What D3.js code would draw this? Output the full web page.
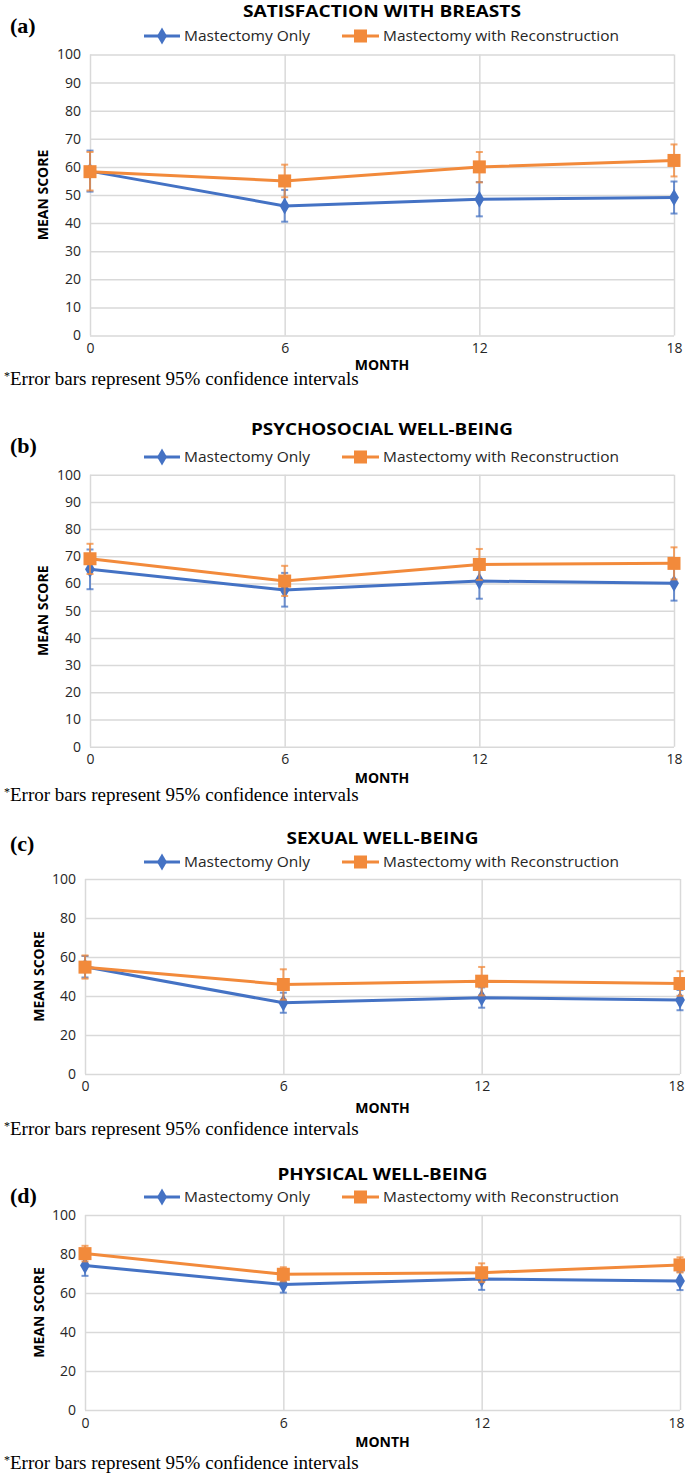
<!DOCTYPE html>
<html>
<head>
<meta charset="utf-8">
<script src="https://cdn.jsdelivr.net/npm/d3@7"></script>
<style>
  html, body { margin: 0; padding: 0; background: #fff; }
  svg { display: block; }
</style>
</head>
<body>
<svg id="chart" width="685" height="1478"></svg>
<script>
// ---------------- DATA ----------------
const months = [0, 6, 12, 18];
const seriesNames = ["Mastectomy Only", "Mastectomy with Reconstruction"];
const panelLabels = ["(a)", "(b)", "(c)", "(d)"];
const panelTitles = ["SATISFACTION WITH BREASTS", "PSYCHOSOCIAL WELL-BEING", "SEXUAL WELL-BEING", "PHYSICAL WELL-BEING"];
const yTicksTen = [0, 10, 20, 30, 40, 50, 60, 70, 80, 90, 100];
const yTicksTwenty = [0, 20, 40, 60, 80, 100];
const xAxisTitle = "MONTH";
const yAxisTitle = "MEAN SCORE";
const captionText = "Error bars represent 95% confidence intervals";

// (a) Satisfaction with breasts
const satOnlyMean = [58.5, 46.1, 48.5, 49.1];
const satOnlyLow  = [51.2, 40.5, 42.4, 43.4];
const satOnlyHigh = [65.8, 51.8, 54.6, 54.8];
const satReconMean = [58.3, 55.0, 60.0, 62.3];
const satReconLow  = [51.6, 49.2, 54.5, 56.6];
const satReconHigh = [65.3, 60.8, 65.3, 68.0];
// (b) Psychosocial well-being
const psyOnlyMean = [65.2, 57.6, 60.9, 60.1];
const psyOnlyLow  = [57.9, 51.5, 54.4, 53.7];
const psyOnlyHigh = [72.5, 63.9, 67.3, 66.5];
const psyReconMean = [69.1, 60.9, 67.0, 67.4];
const psyReconLow  = [63.5, 55.4, 61.3, 61.5];
const psyReconHigh = [74.6, 66.5, 72.7, 73.3];
// (c) Sexual well-being
const sexOnlyMean = [55.0, 36.5, 39.1, 37.9];
const sexOnlyLow  = [49.5, 31.4, 34.0, 32.7];
const sexOnlyHigh = [60.5, 41.7, 44.4, 43.1];
const sexReconMean = [54.8, 45.9, 47.6, 46.4];
const sexReconLow  = [48.9, 38.1, 40.3, 40.1];
const sexReconHigh = [60.8, 53.7, 54.9, 52.7];
// (d) Physical well-being
const phyOnlyMean = [74.1, 64.3, 67.2, 66.2];
const phyOnlyLow  = [68.8, 60.2, 61.6, 61.5];
const phyOnlyHigh = [79.4, 68.4, 72.8, 70.9];
const phyReconMean = [80.2, 69.6, 70.4, 74.4];
const phyReconLow  = [76.2, 66.0, 65.6, 70.5];
const phyReconHigh = [84.2, 73.2, 75.2, 78.3];

// ---------------- STYLE / LAYOUT ----------------
const colors = ["#4472C4", "#F28A3B"];
const gridColor = "#d9d9d9";
const sans = "'Open Sans', 'Noto Sans', sans-serif";
const serif = "'Liberation Serif', 'DejaVu Serif', serif";

const panelData = [
  [[satOnlyMean, satOnlyLow, satOnlyHigh], [satReconMean, satReconLow, satReconHigh]],
  [[psyOnlyMean, psyOnlyLow, psyOnlyHigh], [psyReconMean, psyReconLow, psyReconHigh]],
  [[sexOnlyMean, sexOnlyLow, sexOnlyHigh], [sexReconMean, sexReconLow, sexReconHigh]],
  [[phyOnlyMean, phyOnlyLow, phyOnlyHigh], [phyReconMean, phyReconLow, phyReconHigh]]
];
const panelYTicks = [yTicksTen, yTicksTen, yTicksTwenty, yTicksTwenty];

const layout = [
  {left: 90, right: 674, top: 54.5, bottom: 335.5, titleY: 11, titleW: 278, legendY: 36, labelY: 25, tickY: 348, monthY: 365, captionY: 383, yTitleX: 43},
  {left: 90, right: 674, top: 474.7, bottom: 746.7, titleY: 429, titleW: 262, legendY: 457, labelY: 445, tickY: 759, monthY: 778, captionY: 799, yTitleX: 43},
  {left: 85, right: 680, top: 879, bottom: 1074, titleY: 838, titleW: 192, legendY: 862, labelY: 843, tickY: 1086, monthY: 1108, captionY: 1133, yTitleX: 39},
  {left: 85, right: 680, top: 1215, bottom: 1410, titleY: 1174, titleW: 210, legendY: 1197, labelY: 1195, tickY: 1423, monthY: 1442, captionY: 1467, yTitleX: 39}
];

const svg = d3.select("#chart");

const diamond = d3.symbol().type(d3.symbolDiamond).size(85);
function drawMarker(g, i, x, y) {
  if (i === 0) {
    g.append("path").attr("d", diamond()).attr("transform", `translate(${x},${y})`).attr("fill", colors[0]);
  } else {
    g.append("rect").attr("x", x - 6.5).attr("y", y - 6.5).attr("width", 13).attr("height", 13).attr("fill", colors[1]);
  }
}

layout.forEach((L, p) => {
  const g = svg.append("g");
  const x = d3.scaleLinear().domain([0, 18]).range([L.left, L.right]);
  const y = d3.scaleLinear().domain([0, 100]).range([L.bottom, L.top]);
  const w = L.right - L.left, h = L.bottom - L.top;

  // gridlines + y tick labels
  const yAxis = g.append("g").attr("transform", `translate(${L.left},0)`)
    .call(d3.axisLeft(y).tickValues(panelYTicks[p]).tickSize(-w).tickPadding(9).tickFormat(d3.format("d")));
  yAxis.select(".domain").remove();
  yAxis.selectAll("line").attr("stroke", gridColor).attr("stroke-width", 1.5);
  yAxis.selectAll("text").attr("font-family", sans).attr("font-size", 14).attr("fill", "#262626");

  const xAxis = g.append("g").attr("transform", `translate(0,${L.bottom})`)
    .call(d3.axisBottom(x).tickValues(months).tickSize(-h).tickPadding(0).tickFormat(d3.format("d")));
  xAxis.select(".domain").remove();
  xAxis.selectAll("line").attr("stroke", gridColor).attr("stroke-width", 1.5);
  xAxis.selectAll("text").attr("font-family", sans).attr("font-size", 14).attr("fill", "#262626")
    .attr("y", L.tickY - L.bottom).attr("dy", "0.35em")
    .each(function(d) {
      // keep the last label inside the page edge
      const t = d3.select(this);
      if (x(d) + 9 > 684) t.attr("text-anchor", "end").attr("x", 684 - x(d));
    });

  // title
  g.append("text").attr("x", (L.left + L.right) / 2).attr("y", L.titleY).attr("dy", "0.35em")
    .attr("text-anchor", "middle").attr("font-family", sans).attr("font-weight", "bold").attr("font-size", 16)
    .attr("textLength", L.titleW).attr("lengthAdjust", "spacingAndGlyphs")
    .attr("fill", "#000").text(panelTitles[p]);

  // panel label
  g.append("text").attr("x", 10).attr("y", L.labelY).attr("dy", "0.35em")
    .attr("font-family", serif).attr("font-weight", "bold").attr("font-size", 22)
    .attr("fill", "#000").text(panelLabels[p]);

  // legend
  const legendItems = [{x0: 144, x1: 180, tx: 184, tw: 126}, {x0: 342, x1: 379, tx: 383, tw: 236}];
  legendItems.forEach((li, i) => {
    g.append("line").attr("x1", li.x0).attr("x2", li.x1).attr("y1", L.legendY).attr("y2", L.legendY)
      .attr("stroke", colors[i]).attr("stroke-width", 3);
    drawMarker(g, i, (li.x0 + li.x1) / 2, L.legendY);
    g.append("text").attr("x", li.tx).attr("y", L.legendY).attr("dy", "0.35em")
      .attr("font-family", sans).attr("font-size", 14.5).attr("fill", "#262626")
      .attr("textLength", li.tw).attr("lengthAdjust", "spacingAndGlyphs")
      .text(seriesNames[i]);
  });

  // axis titles
  g.append("text").attr("x", (L.left + L.right) / 2).attr("y", L.monthY).attr("dy", "0.35em")
    .attr("text-anchor", "middle").attr("font-family", sans).attr("font-weight", "bold").attr("font-size", 14)
    .attr("fill", "#000").text(xAxisTitle);
  g.append("text").attr("transform", `translate(${L.yTitleX},${(L.top + L.bottom) / 2}) rotate(-90)`)
    .attr("dy", "0.35em").attr("text-anchor", "middle").attr("font-family", sans).attr("font-weight", "bold")
    .attr("font-size", 14).attr("fill", "#000").text(yAxisTitle);

  // caption
  const cap = g.append("text").attr("x", 4).attr("y", L.captionY).attr("dy", "0.35em")
    .attr("font-family", serif).attr("font-size", 19).attr("fill", "#000");
  cap.append("tspan").attr("font-size", 12).attr("dy", "-0.25em").text("*");
  cap.append("tspan").attr("dy", "0.25em").text(captionText);

  // series
  panelData[p].forEach((s, i) => {
    const [mean, lo, hi] = s;
    const sg = g.append("g");
    // error bars
    months.forEach((m, k) => {
      const cx = x(m);
      sg.append("line").attr("x1", cx).attr("x2", cx).attr("y1", y(lo[k])).attr("y2", y(hi[k]))
        .attr("stroke", colors[i]).attr("stroke-width", 2).attr("opacity", 0.75);
      [lo[k], hi[k]].forEach(v => {
        sg.append("line").attr("x1", cx - 3.5).attr("x2", cx + 3.5).attr("y1", y(v)).attr("y2", y(v))
          .attr("stroke", colors[i]).attr("stroke-width", 2).attr("opacity", 0.75);
      });
    });
    const line = d3.line().x((d, k) => x(months[k])).y(d => y(d));
    sg.append("path").attr("d", line(mean)).attr("fill", "none").attr("stroke", colors[i]).attr("stroke-width", 3);
    mean.forEach((v, k) => drawMarker(sg, i, x(months[k]), y(v)));
  });
});
</script>
</body>
</html>
